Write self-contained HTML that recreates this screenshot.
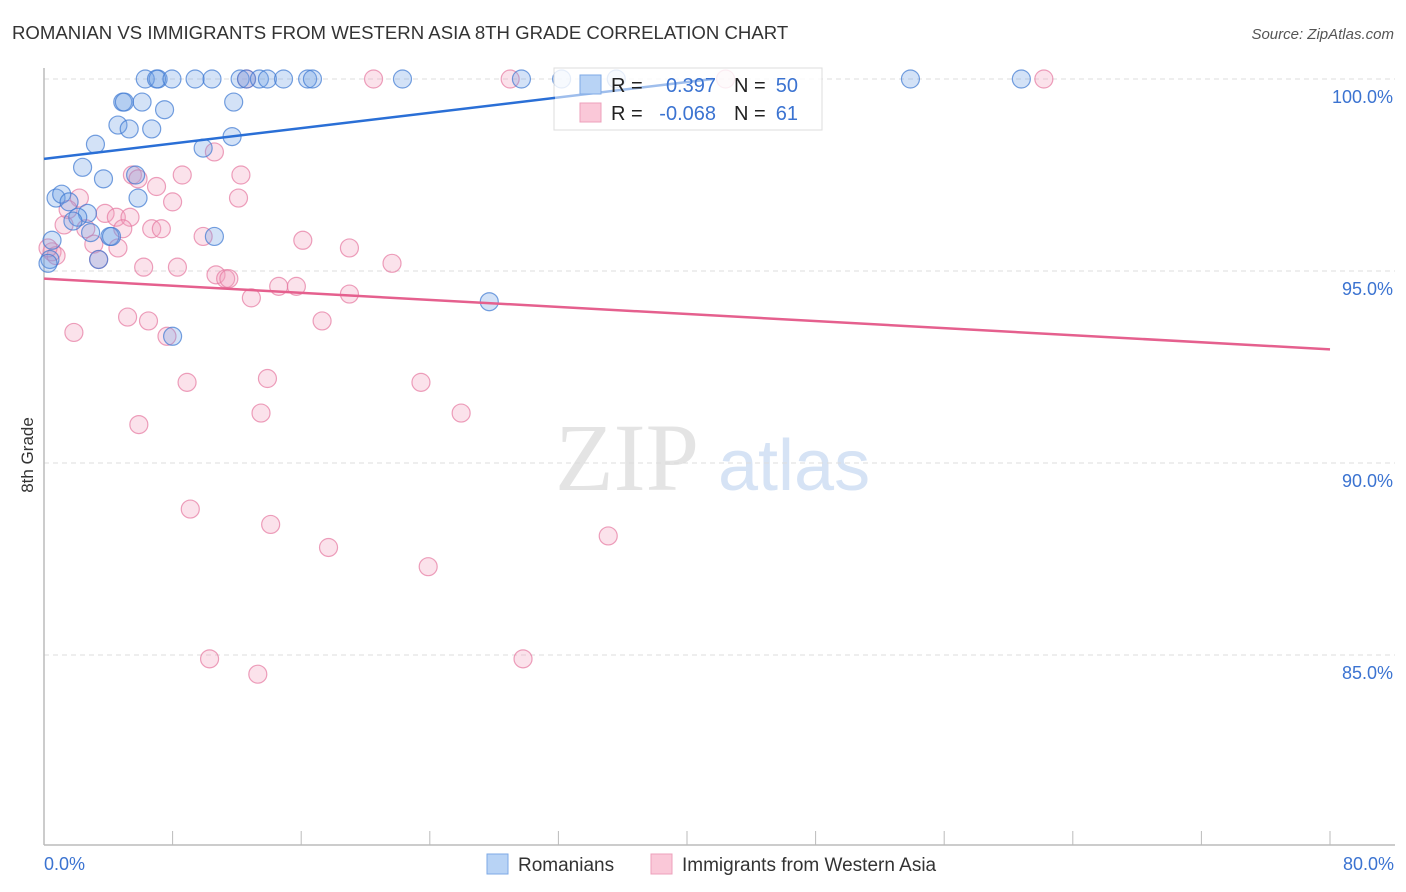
<!DOCTYPE html>
<html><head><meta charset="utf-8">
<style>
body{margin:0;background:#fff;font-family:"Liberation Sans",sans-serif;}
#wrap{position:relative;width:1406px;height:892px;overflow:hidden;}
</style></head>
<body>
<div id="wrap">
<svg id="chart" width="1406" height="892" xmlns="http://www.w3.org/2000/svg">
<text x="12" y="39" font-size="18.6" fill="#333">ROMANIAN VS IMMIGRANTS FROM WESTERN ASIA 8TH GRADE CORRELATION CHART</text>
<text x="1394" y="39" font-size="15" fill="#555" font-style="italic" text-anchor="end">Source: ZipAtlas.com</text>
<text x="33" y="455" font-size="17" fill="#333" text-anchor="middle" transform="rotate(-90 33 455)">8th Grade</text>
<text x="555" y="490" font-size="96" fill="#e4e4e4" font-family="Liberation Serif,serif">ZIP</text>
<text x="718" y="490" font-size="72" fill="#d6e3f5">atlas</text>
<g id="grid"></g><g id="axes"></g><g id="marks"></g><g id="legendg"></g>
</svg>
</div>
<script>
const blueX=[6.3,7.1,7.0,7.96,9.4,10.45,12.2,12.6,13.4,13.9,14.9,16.4,16.7,22.3,29.7,32.2,35.6,53.9,60.8,4.9,5.0,6.1,11.8,7.5,4.6,5.3,6.7,3.2,9.9,11.7,2.4,3.7,5.7,0.75,1.1,1.56,5.85,2.7,2.1,1.8,2.9,4.1,4.2,10.6,0.5,0.37,3.4,27.7,8.0,0.25];
const blueY=[100,100,100,100,100,100,100,100,100,100,100,100,100,100,100,100,100,100,100,99.4,99.4,99.4,99.4,99.2,98.8,98.7,98.7,98.3,98.2,98.5,97.7,97.4,97.5,96.9,97.0,96.8,96.9,96.5,96.4,96.3,96.0,95.9,95.9,95.9,95.8,95.3,95.3,94.2,93.3,95.2];
const pinkX=[12.6,20.5,29.0,42.4,62.2,10.6,5.5,8.6,12.25,7.0,5.85,12.1,8.0,2.2,1.5,3.8,4.5,5.35,1.25,2.6,6.7,7.3,4.9,9.9,16.1,19.0,3.1,4.6,0.5,0.75,3.4,6.2,8.3,21.65,10.7,11.3,11.5,14.6,15.7,12.9,19.0,5.2,6.5,17.3,1.86,7.65,8.9,13.9,23.45,13.5,25.95,5.9,9.1,14.1,17.7,35.1,23.9,10.3,29.8,13.3,0.25];
const pinkY=[100,100,100,100,100,98.1,97.5,97.5,97.5,97.2,97.4,96.9,96.8,96.9,96.6,96.5,96.4,96.4,96.2,96.1,96.1,96.1,96.1,95.9,95.8,95.6,95.7,95.6,95.5,95.4,95.3,95.1,95.1,95.2,94.9,94.8,94.8,94.6,94.6,94.3,94.4,93.8,93.7,93.7,93.4,93.3,92.1,92.2,92.1,91.3,91.3,91.0,88.8,88.4,87.8,88.1,87.3,84.9,84.9,84.5,95.6];
const yTicks=[100,95,90,85];
const yTickLabels=["100.0%","95.0%","90.0%","85.0%"];
const xTickVals=[0,8,16,24,32,40,48,56,64,72,80];
const blueTrend=[0,97.92,41.6,100.0];
const pinkTrend=[0,94.8,80,92.96];
const NS="http://www.w3.org/2000/svg";
const sx=v=>44+v*16.075;
const sy=v=>79+(100-v)*38.4;
function mk(tag,attrs,parent){const e=document.createElementNS(NS,tag);for(const k in attrs)e.setAttribute(k,attrs[k]);parent.appendChild(e);return e;}
const grid=document.getElementById('grid'),axes=document.getElementById('axes'),marks=document.getElementById('marks'),lg=document.getElementById('legendg');
yTicks.forEach((t,i)=>{
  const l=mk('line',{x1:44,x2:1395,y1:sy(t),y2:sy(t),stroke:'#ddd','stroke-dasharray':'5,4'},grid);
  
  
  const tx=mk('text',{x:1393,y:sy(t)+24,'font-size':18,fill:'#3b73d1','text-anchor':'end'},axes);
  tx.textContent=yTickLabels[i];
  
  
});
const ax=mk('line',{x1:44,x2:1395,y1:845,y2:845,stroke:'#bbb','stroke-width':1.5},axes);


const ay=mk('line',{x1:44,x2:44,y1:68,y2:845,stroke:'#bbb','stroke-width':1.5},axes);


xTickVals.forEach(v=>{
  const t=mk('line',{x1:sx(v),x2:sx(v),y1:831,y2:845,stroke:'#bbb'},axes);
  
  
});
const x0=mk('text',{x:44,y:870,'font-size':18,fill:'#3b73d1'},axes);x0.textContent='0.0%';


const x1=mk('text',{x:1394,y:870,'font-size':18,fill:'#3b73d1','text-anchor':'end'},axes);x1.textContent='80.0%';


pinkX.forEach((v,i)=>{
  const c=mk('circle',{cx:sx(v),cy:sy(pinkY[i]),r:9,fill:'rgba(243,160,190,0.3)',stroke:'rgba(230,120,160,0.7)','stroke-width':1.2},marks);
  
  
});
blueX.forEach((v,i)=>{
  const c=mk('circle',{cx:sx(v),cy:sy(blueY[i]),r:9,fill:'rgba(110,160,230,0.3)',stroke:'rgba(60,120,210,0.7)','stroke-width':1.2},marks);
  
  
});
const pl=mk('line',{x1:sx(pinkTrend[0]),y1:sy(pinkTrend[1]),x2:sx(pinkTrend[2]),y2:sy(pinkTrend[3]),stroke:'#e5608e','stroke-width':2.5},marks);


// stats legend
const box=mk('rect',{x:554,y:68,width:268,height:62,fill:'rgba(255,255,255,0.6)',stroke:'#ddd'},lg);


const bl=mk('line',{x1:sx(blueTrend[0]),y1:sy(blueTrend[1]),x2:sx(blueTrend[2]),y2:sy(blueTrend[3]),stroke:'#2a6fd6','stroke-width':2.5},lg);


const cover=mk('rect',{x:555,y:69,width:266,height:60,fill:'rgba(255,255,255,0.55)'},lg);


const s1=mk('rect',{x:580,y:75,width:21,height:19,fill:'#b8d3f5',stroke:'#7eaae6'},lg);


const s2=mk('rect',{x:580,y:103,width:21,height:19,fill:'#fac8d8',stroke:'#eda0bb'},lg);


[[611,92,'R = ','#222','start'],[716,92,'0.397','#3b73d1','end'],[734,92,'N = ','#222','start'],[798,92,'50','#3b73d1','end'],
 [611,120,'R = ','#222','start'],[716,120,'-0.068','#3b73d1','end'],[734,120,'N = ','#222','start'],[798,120,'61','#3b73d1','end']].forEach(a=>{
  const t=mk('text',{x:a[0],y:a[1],'font-size':20,fill:a[3],'text-anchor':a[4]},lg);t.textContent=a[2];
  
  
});
// bottom legend
const b1=mk('rect',{x:487,y:854,width:21,height:20,fill:'#b8d3f5',stroke:'#7eaae6'},lg);


const t1=mk('text',{x:518,y:871,'font-size':19,fill:'#333'},lg);t1.textContent='Romanians';


const b2=mk('rect',{x:651,y:854,width:21,height:20,fill:'#fac8d8',stroke:'#eda0bb'},lg);


const t2=mk('text',{x:682,y:871,'font-size':19,fill:'#333'},lg);t2.textContent='Immigrants from Western Asia';


</script>
</body></html>
